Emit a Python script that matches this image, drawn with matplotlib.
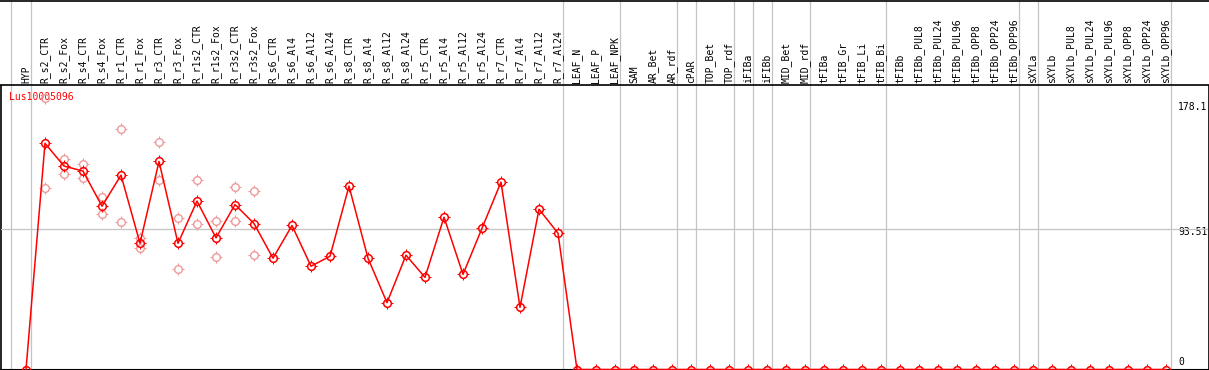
import matplotlib
matplotlib.use("Agg")
import matplotlib.pyplot as plt
from matplotlib.path import Path

W, H = 1209, 370

samples = [
    "HYP", "R_s2_CTR", "R_s2_Fox", "R_s4_CTR", "R_s4_Fox", "R_r1_CTR", "R_r1_Fox",
    "R_r3_CTR", "R_r3_Fox", "R_r1s2_CTR", "R_r1s2_Fox", "R_r3s2_CTR", "R_r3s2_Fox",
    "R_s6_CTR", "R_s6_Al4", "R_s6_Al12", "R_s6_Al24", "R_s8_CTR", "R_s8_Al4",
    "R_s8_Al12", "R_s8_Al24", "R_r5_CTR", "R_r5_Al4", "R_r5_Al12", "R_r5_Al24",
    "R_r7_CTR", "R_r7_Al4", "R_r7_Al12", "R_r7_Al24", "LEAF_N", "LEAF_P", "LEAF_NPK",
    "SAM", "AR_Bet", "AR_rdf", "cPAR", "TOP_Bet", "TOP_rdf", "iFIBa", "iFIBb",
    "MID_Bet", "MID_rdf", "tFIBa", "tFIB_Gr", "tFIB_Li", "tFIB_Bi", "tFIBb",
    "tFIBb_PUL8", "tFIBb_PUL24", "tFIBb_PUL96", "tFIBb_OPP8", "tFIBb_OPP24",
    "tFIBb_OPP96", "sXYLa", "sXYLb", "sXYLb_PUL8", "sXYLb_PUL24", "sXYLb_PUL96",
    "sXYLb_OPP8", "sXYLb_OPP24", "sXYLb_OPP96",
]

mean_values = [
    0.0, 150.0, 134.9, 131.6, 108.3, 128.9, 83.7, 138.0, 83.7, 111.7, 87.3, 109.4,
    96.8, 73.8, 95.5, 68.5, 75.1, 121.6, 73.8, 44.3, 75.8, 61.1, 101.0, 63.1, 93.7,
    124.3, 41.2, 106.3, 90.4,
] + [0.0] * 32

rep_index = [1, 2, 3, 4, 5, 6, 7, 8, 9, 10, 11, 12]
rep_a = [180.1, 139.4, 136.0, 114.1, 159.3, 87.1, 150.7, 100.2, 125.4, 98.8, 120.8, 118.1]
rep_b = [120.1, 129.4, 126.7, 102.8, 97.5, 80.4, 125.4, 66.9, 96.8, 74.9, 98.2, 76.2]

# group separators sit just after the last sample of each group
group_ends = [0, 28, 31, 34, 35, 37, 38, 39, 41, 45, 52, 53, 60]
y_max = 187.02
y_ticks = ["178.1", "93.51", "0"]

X0, DX = 26.0, 19.0


def px2x(px):
    return (px - X0) / DX


fig = plt.figure(figsize=(W / 100, H / 100), dpi=100)
fig.patch.set_facecolor("white")
mono = {"family": "DejaVu Sans Mono", "size": 7}

# header / frame overlay in pixel coordinates
over = fig.add_axes([0, 0, 1, 1])
over.set_xlim(px2x(0), px2x(W))
over.set_ylim(H, 0)
over.axis("off")
over.set_zorder(0)

ax = fig.add_axes([1 / W, 0.5 / H, 1207 / W, (369.5 - 87.5) / H])
ax.set_xlim(px2x(1), px2x(1208))
ax.set_ylim(0, y_max)
ax.set_facecolor("none")
ax.set_zorder(1)
for s in ["top", "right", "left"]:
    ax.spines[s].set_visible(False)
ax.spines["bottom"].set_color("black")
ax.spines["bottom"].set_linewidth(1.5)
ax.set_xticks([])
ax.set_yticks([])

grid_c = "#c4c4c4"
over.vlines([px2x(10.7)] + [g + 0.25 for g in group_ends], 0, H, color=grid_c, lw=0.9)
ax.axhline(y_max / 2, color=grid_c, lw=0.9, zorder=0)

# frame lines
over.hlines([0.5, 85], px2x(0), px2x(1208.5), color="black", lw=1.2)
over.vlines([px2x(1.0), px2x(1208.5)], 85, H, color="black", lw=1.2)

for i, name in enumerate(samples):
    over.text(i, 83, name, rotation=90, ha="center", va="bottom", fontdict=mono)

over.text(px2x(9), 97, "Lus10005096", color="red", ha="left", va="center", fontdict=mono)
for label, ypx in zip(y_ticks, [107, 232, 362]):
    over.text(px2x(1178), ypx, label, ha="left", va="center", fontdict=mono)

ticks = Path(
    [(0, 0.72), (0, 1), (0, -0.72), (0, -1), (0.72, 0), (1, 0), (-0.72, 0), (-1, 0)],
    [Path.MOVETO, Path.LINETO] * 4,
)

light = "#ee9a9a"
for vals in (rep_a, rep_b):
    ax.plot(rep_index, vals, ls="none", marker="o", ms=5.5, mfc="none", mec=light,
            mew=1.0, clip_on=False, zorder=2)
    ax.plot(rep_index, vals, ls="none", marker=ticks, ms=8, mec=light, mew=0.8,
            clip_on=False, zorder=2)

xs = list(range(len(samples)))
ax.plot(xs, mean_values, color="red", lw=1.1, marker="o", ms=5.5, mfc="none",
        mec="red", mew=1.1, clip_on=False, zorder=3)
ax.plot(xs, mean_values, ls="none", marker=ticks, ms=8, mec="red", mew=0.8,
        clip_on=False, zorder=3)

fig.savefig("out.png", dpi=100, facecolor="white")
